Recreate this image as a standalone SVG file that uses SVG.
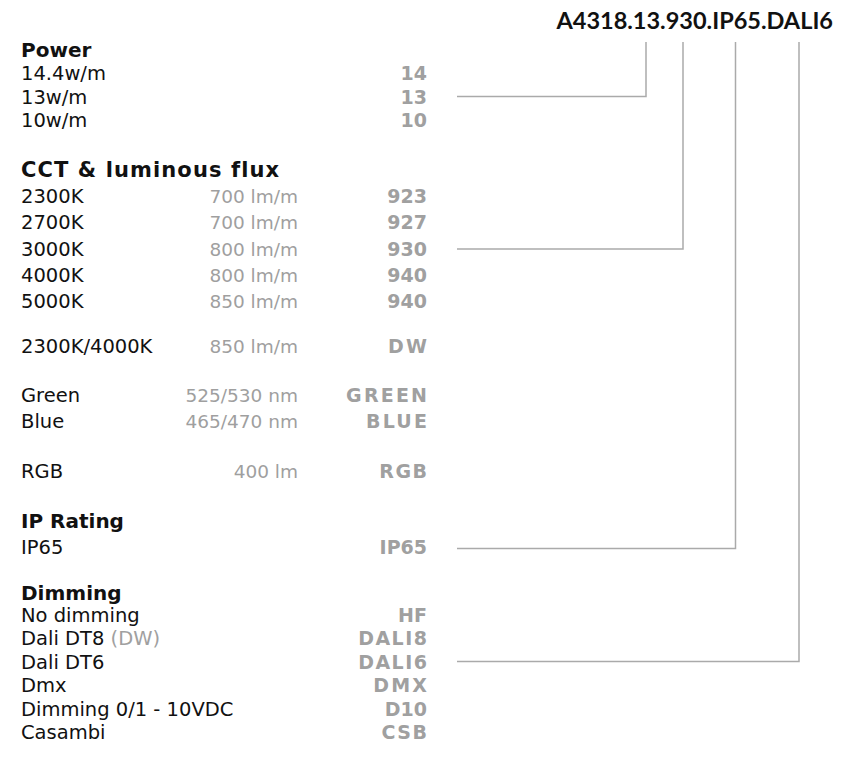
<svg xmlns="http://www.w3.org/2000/svg" width="848" height="760" viewBox="0 0 848 760">
<style>
text{font-family:"DejaVu Sans","Liberation Sans",sans-serif}
.h{font-weight:bold;font-size:20px;fill:#111}
.t{font-size:19.5px;fill:#111}
.m{font-size:18.5px;fill:#9f9f9f;text-anchor:end}
.c{font-size:19px;font-weight:bold;fill:#a0a0a0;text-anchor:end}
.w{letter-spacing:2.2px}
.v{letter-spacing:1.5px}
.g{fill:#a0a0a0}
.title{font-family:Lato,"DejaVu Sans",sans-serif;font-weight:bold;font-size:23.5px;fill:#111;text-anchor:end}
.ln{fill:none;stroke:#aaaaaa;stroke-width:1.5}
</style>
<rect width="848" height="760" fill="#fff"/>
<g id="title"><text class="title" x="833" y="29">A4318.13.930.IP65.DALI6</text></g>
<g id="power">
<text class="h" x="21" y="57">Power</text>
<text class="t" x="21" y="80">14.4w/m</text><text class="c" x="427" y="80">14</text>
<text class="t" x="21" y="104">13w/m</text><text class="c" x="427" y="104">13</text>
<text class="t" x="21" y="127">10w/m</text><text class="c" x="427" y="127">10</text>
</g>
<g id="cct">
<text class="h" x="21" y="177" style="font-size:21px;letter-spacing:1.1px">CCT &amp; luminous flux</text>
<text class="t" x="21" y="203">2300K</text><text class="m" x="298" y="203">700 lm/m</text><text class="c" x="427" y="203">923</text>
<text class="t" x="21" y="229">2700K</text><text class="m" x="298" y="229">700 lm/m</text><text class="c" x="427" y="229">927</text>
<text class="t" x="21" y="256">3000K</text><text class="m" x="298" y="256">800 lm/m</text><text class="c" x="427" y="256">930</text>
<text class="t" x="21" y="282">4000K</text><text class="m" x="298" y="282">800 lm/m</text><text class="c" x="427" y="282">940</text>
<text class="t" x="21" y="308">5000K</text><text class="m" x="298" y="308">850 lm/m</text><text class="c" x="427" y="308">940</text>
<text class="t" x="21" y="353">2300K/4000K</text><text class="m" x="298" y="353">850 lm/m</text><text class="c w" x="429.2" y="353">DW</text>
<text class="t" x="21" y="402">Green</text><text class="m" x="298" y="402">525/530 nm</text><text class="c w" x="429.2" y="402">GREEN</text>
<text class="t" x="21" y="428">Blue</text><text class="m" x="298" y="428">465/470 nm</text><text class="c w" x="429.2" y="428">BLUE</text>
<text class="t" x="21" y="478">RGB</text><text class="m" x="298" y="478">400 lm</text><text class="c v" x="428.5" y="478">RGB</text>
</g>
<g id="ip">
<text class="h" x="21" y="528">IP Rating</text>
<text class="t" x="21" y="553.5">IP65</text><text class="c" x="427" y="553.5">IP65</text>
</g>
<g id="dimming">
<text class="h" x="21" y="599.5">Dimming</text>
<text class="t" x="21" y="622">No dimming</text><text class="c" x="427" y="622">HF</text>
<text class="t" x="21" y="645.4">Dali DT8 <tspan class="g">(DW)</tspan></text><text class="c v" x="428.5" y="645.4">DALI8</text>
<text class="t" x="21" y="668.8">Dali DT6</text><text class="c v" x="428.5" y="668.8">DALI6</text>
<text class="t" x="21" y="692.2">Dmx</text><text class="c w" x="429.2" y="692.2">DMX</text>
<text class="t" x="21" y="715.6">Dimming 0/1 - 10VDC</text><text class="c" x="427" y="715.6">D10</text>
<text class="t" x="21" y="739">Casambi</text><text class="c v" x="428.5" y="739">CSB</text>
</g>
<g id="connectors">
<polyline class="ln" points="457,96.5 646,96.5 646,42"/>
<polyline class="ln" points="457,249 683,249 683,42"/>
<polyline class="ln" points="457,548.5 735.5,548.5 735.5,42"/>
<polyline class="ln" points="457,661.5 799,661.5 799,42"/>
</g>
</svg>
